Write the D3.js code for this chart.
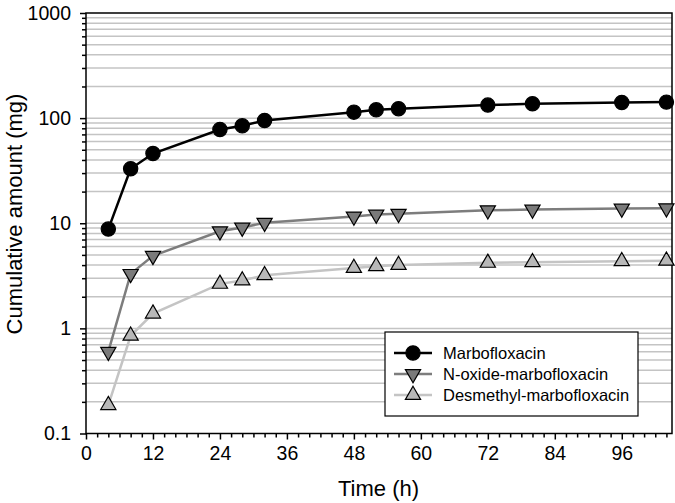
<!DOCTYPE html>
<html><head><meta charset="utf-8">
<script src="https://cdn.jsdelivr.net/npm/d3@7"></script>
<style>body{margin:0;background:#fff}svg{display:block}text{font-family:Arial,"Liberation Sans",sans-serif}</style>
</head><body><svg id="c" width="675" height="503"></svg>
<script>
const times = [4, 8, 12, 24, 28, 32, 48, 52, 56, 72, 80, 96, 104];
const marbofloxacin = [8.8, 33, 46, 78, 84.5, 95, 114, 120, 123, 133, 137, 141, 142];
const nOxide = [0.6, 3.3, 4.9, 8.4, 9.1, 10.1, 11.6, 12.1, 12.3, 13.3, 13.5, 13.8, 13.9];
const desmethyl = [0.186, 0.85, 1.38, 2.65, 2.85, 3.2, 3.75, 3.9, 4.0, 4.2, 4.25, 4.35, 4.4];
const seriesNames = ["Marbofloxacin", "N-oxide-marbofloxacin", "Desmethyl-marbofloxacin"];
const xTickLabels = [0, 12, 24, 36, 48, 60, 72, 84, 96];
const yTickLabels = [0.1, 1, 10, 100, 1000];

const svg = d3.select("#c");
const L = 86, R = 672, T = 13, B = 433.5;
const x = d3.scaleLinear().domain([0, 105]).range([L, R]);
const y = d3.scaleLog().domain([0.1, 1000]).range([B, T]);

// gridlines
const gridVals = [];
for (let e = -1; e < 3; e++) for (let m = 1; m <= 9; m++) { const v = m * Math.pow(10, e); if (v > 0.1 + 1e-9) gridVals.push(v); }
svg.append("g").selectAll("line").data(gridVals).join("line")
  .attr("x1", L).attr("x2", R).attr("y1", d => y(d)).attr("y2", d => y(d))
  .attr("stroke", "#c4c4c4").attr("stroke-width", 1.5);

// frame
svg.append("rect").attr("x", L).attr("y", T).attr("width", R - L).attr("height", B - T)
  .attr("fill", "none").attr("stroke", "#000").attr("stroke-width", 1.5);

// y axis
const minorY = [];
for (let e = -1; e < 3; e++) for (let m = 2; m <= 9; m++) minorY.push(m * Math.pow(10, e));
const yAx = svg.append("g").attr("transform", `translate(${L},0)`);
yAx.call(d3.axisLeft(y).tickValues(yTickLabels).tickFormat(d => String(d)).tickSize(6).tickPadding(9));
yAx.append("g").call(d3.axisLeft(y).tickValues(minorY).tickFormat("").tickSize(4));
yAx.selectAll(".domain").remove();
yAx.selectAll("line").attr("stroke", "#000").attr("stroke-width", 1.5);
yAx.selectAll("text").attr("font-size", 19.5).attr("fill", "#000").attr("font-family", "Arial, 'Liberation Sans', sans-serif");

// x axis
const minorX = d3.range(0, 105, 2).filter(v => v % 12 !== 0);
const xAx = svg.append("g").attr("transform", `translate(0,${B})`);
xAx.call(d3.axisBottom(x).tickValues(xTickLabels).tickSize(6).tickPadding(7));
xAx.append("g").call(d3.axisBottom(x).tickValues(minorX).tickFormat("").tickSize(4));
xAx.selectAll(".domain").remove();
xAx.selectAll("line").attr("stroke", "#000").attr("stroke-width", 1.5);
xAx.selectAll("text").attr("font-size", 19.5).attr("fill", "#000").attr("font-family", "Arial, 'Liberation Sans', sans-serif");

// titles
svg.append("text").attr("x", 378.5).attr("y", 496).attr("text-anchor", "middle")
  .attr("font-size", 22).text("Time (h)");
svg.append("text").attr("transform", `translate(22,214) rotate(-90)`).attr("text-anchor", "middle")
  .attr("font-size", 22).text("Cumulative amount (mg)");

const series = [
  { name: seriesNames[0], vals: marbofloxacin, line: "#000", fill: "#000", sym: d3.symbolCircle, size: 160, rot: 0 },
  { name: seriesNames[1], vals: nOxide, line: "#7d7d7d", fill: "#7a7a7a", sym: d3.symbolTriangle, size: 100, rot: 180 },
  { name: seriesNames[2], vals: desmethyl, line: "#c4c4c4", fill: "#b8b8b8", sym: d3.symbolTriangle, size: 100, rot: 0 }
];
const lineGen = d3.line().x((d, i) => x(times[i])).y(d => y(d));
const plot = svg.append("g");
series.slice().reverse().forEach(s => {
  plot.append("path").attr("d", lineGen(s.vals)).attr("fill", "none").attr("stroke", s.line).attr("stroke-width", 2.5);
  plot.append("g").selectAll("path").data(s.vals).join("path")
    .attr("d", d3.symbol().type(s.sym).size(s.size))
    .attr("transform", (d, i) => `translate(${x(times[i])},${y(d)}) rotate(${s.rot})`)
    .attr("fill", s.fill).attr("stroke", "#000").attr("stroke-width", 1.2);
});

// legend
const lg = svg.append("g");
lg.append("rect").attr("x", 385).attr("y", 332).attr("width", 253).attr("height", 84)
  .attr("fill", "#fff").attr("stroke", "#000").attr("stroke-width", 1.2);
series.forEach((s, i) => {
  const yy = 353 + i * 21;
  lg.append("line").attr("x1", 394).attr("x2", 432).attr("y1", yy).attr("y2", yy).attr("stroke", s.line).attr("stroke-width", 2.5);
  lg.append("path").attr("d", d3.symbol().type(s.sym).size(s.size)).attr("transform", `translate(413,${yy}) rotate(${s.rot})`)
    .attr("fill", s.fill).attr("stroke", "#000").attr("stroke-width", 1.2);
  lg.append("text").attr("x", 443).attr("y", yy + 6).attr("font-size", 16.5).text(s.name);
});
</script></body></html>
